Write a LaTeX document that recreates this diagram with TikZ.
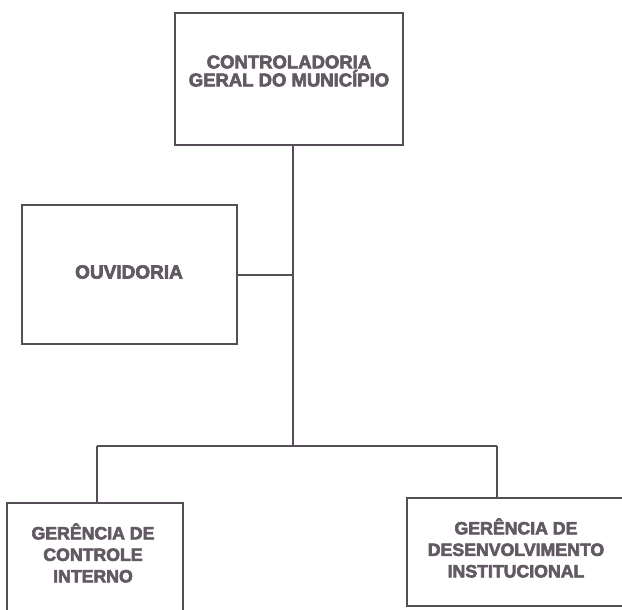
\documentclass[tikz,border=0pt]{standalone}
\usepackage{fontspec}
\setmainfont{Liberation Sans}[BoldFeatures={FakeBold=3.5}]
\definecolor{linec}{HTML}{564E56}
\definecolor{textc}{HTML}{625A62}
\begin{document}
\begin{tikzpicture}[x=1pt,y=-1pt,
  box/.style={draw=linec,line width=2.4pt,rectangle,inner sep=0pt},
  lbl/.style={text=textc,font=\fontsize{18.5}{18}\selectfont\bfseries,align=center,inner sep=0pt},
  lblb/.style={lbl,font=\fontsize{17.7}{21.5}\selectfont\bfseries},
  conn/.style={draw=linec,line width=2pt},
  connthin/.style={draw=linec,line width=1.4pt}]
\useasboundingbox (0,0) rectangle (622,610);
\clip (0,0) rectangle (622,610);
\node[box,minimum width=228,minimum height=132] (top) at (289,79) {};
\node[lbl] (toptxt) at (289,71) {CONTROLADORIA\\GERAL DO MUNICÍPIO};
\node[box,minimum width=215,minimum height=139] (ouv) at (129.5,274.5) {};
\node[lbl,font=\fontsize{19}{20}\selectfont\bfseries] (ouvtxt) at (129,272) {OUVIDORIA};
\node[box,minimum width=176,minimum height=130] (gci) at (95,568) {};
\node[lblb] (gcitxt) at (93,553) {GERÊNCIA DE\\CONTROLE\\INTERNO};
\node[box,minimum width=218,minimum height=108] (gdi) at (516,552) {};
\node[lblb] (gditxt) at (516,548) {GERÊNCIA DE\\DESENVOLVIMENTO\\INSTITUCIONAL};
\coordinate (j1) at (293,273);
\coordinate (j2) at (293,446);
\coordinate (l) at (97,446);
\coordinate (r) at (497,446);
\draw[conn] (top.south -| j1) -- (j2);
\draw[conn] (ouv.east) -- (ouv.east -| j1);
\draw[connthin] (l) -- (r);
\draw[connthin] (l) -- (l |- gci.north);
\draw[connthin] (r) -- (r |- gdi.north);
\end{tikzpicture}
\end{document}
